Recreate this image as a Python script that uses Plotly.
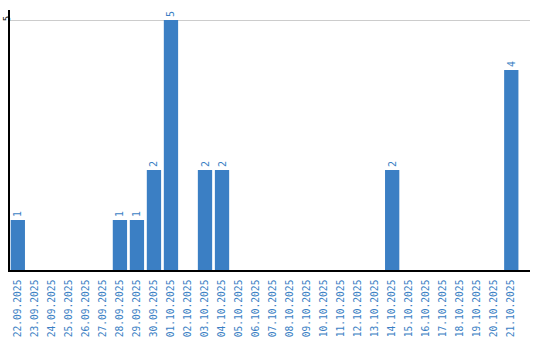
import plotly.graph_objects as go

dates = ["22.09.2025", "23.09.2025", "24.09.2025", "25.09.2025", "26.09.2025", "27.09.2025",
         "28.09.2025", "29.09.2025", "30.09.2025", "01.10.2025", "02.10.2025", "03.10.2025",
         "04.10.2025", "05.10.2025", "06.10.2025", "07.10.2025", "08.10.2025", "09.10.2025",
         "10.10.2025", "11.10.2025", "12.10.2025", "13.10.2025", "14.10.2025", "15.10.2025",
         "16.10.2025", "17.10.2025", "18.10.2025", "19.10.2025", "20.10.2025", "21.10.2025"]
counts = [1, 0, 0, 0, 0, 0, 1, 1, 2, 5, 0, 2, 2, 0, 0, 0, 0, 0, 0, 0, 0, 0, 2, 0, 0, 0, 0, 0, 0, 4]

blue = "#3b7fc4"
labels = [str(v) if v else "" for v in counts]

fig = go.Figure(go.Bar(
    x=dates, y=counts, marker=dict(color=blue, line=dict(width=0)),
    text=labels, textposition="outside", textangle=-90,
    textfont=dict(color=blue, size=10, family="DejaVu Sans Mono"),
    cliponaxis=False,
))
fig.update_layout(
    width=540, height=340, margin=dict(l=10, r=10, t=10, b=70, autoexpand=False),
    plot_bgcolor="white", paper_bgcolor="white", showlegend=False, bargap=0.16,
    xaxis=dict(type="category", range=[-0.46, 30.1], tickangle=-90, showgrid=False,
               automargin=False, ticklabelstandoff=4,
               showline=True, linecolor="black", linewidth=1.5, ticks="",
               tickfont=dict(color=blue, size=9.6, family="DejaVu Sans Mono")),
    yaxis=dict(range=[0, 5.2], tickvals=[5], ticktext=["5"], tickangle=-90,
               automargin=False, ticklabelstandoff=-5,
               showgrid=True, gridcolor="#cccccc", gridwidth=1, zeroline=False,
               showline=True, linecolor="black", linewidth=1.5, ticks="",
               tickfont=dict(color="black", size=9, family="DejaVu Sans Mono")),
)
fig.write_html("out.html")
